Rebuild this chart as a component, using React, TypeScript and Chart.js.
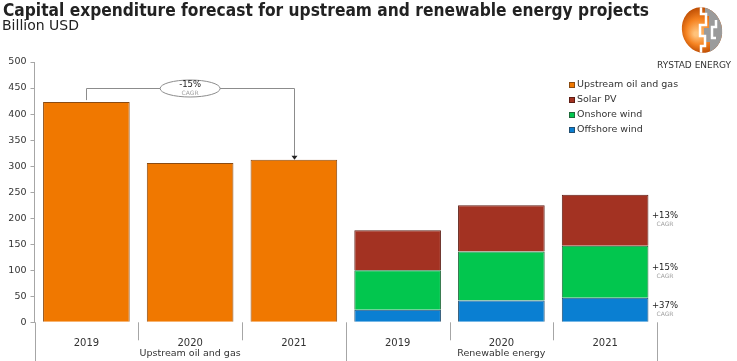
import React, { useEffect, useRef } from "react";
import { Chart, registerables } from "chart.js";

Chart.register(...registerables);

// ---------- data ----------
const categories = ["2019", "2020", "2021", "2019", "2020", "2021"];
const groups = ["Upstream oil and gas", "Renewable energy"];
const groupSpans = [3, 3];
const upstream = [423, 306, 312, null, null, null];
const offshoreWind = [null, null, null, 24, 42, 47];
const onshoreWind = [null, null, null, 76, 94, 100];
const solarPV = [null, null, null, 77, 89, 98];
const yMin = 0;
const yMax = 500;
const yStep = 50;
const upstreamCagr = "-15%";
const upstreamCagrLevel = 450;
const renewCagr = ["+37%", "+15%", "+13%"]; // offshore, onshore, solar
const legendLabels = ["Upstream oil and gas", "Solar PV", "Onshore wind", "Offshore wind"];
const title = "Capital expenditure forecast for upstream and renewable energy projects";
const subtitle = "Billion USD";
const brand = "RYSTAD ENERGY";

const COLORS = {
  upstream: "#F07800",
  solar: "#A33222",
  onshore: "#02C64E",
  offshore: "#0A7FD2",
};
const BORDERS = {
  upstream: "#8a4b12",
  solar: "#5e1d14",
  onshore: "#1f6a3a",
  offshore: "#234f70",
};
const FONT = "'DejaVu Sans', Verdana, sans-serif";
const AXIS = "#a6a6a6";

const overlayPlugin = {
  id: "overlay",
  afterDraw(chart: any) {
    const ctx: CanvasRenderingContext2D = chart.ctx;
    const area = chart.chartArea;
    const x = chart.scales.x;
    const y = chart.scales.y;
    const H = chart.height;
    const n = categories.length;
    const catW = (area.right - area.left) / n;
    ctx.save();

    // Title & subtitle
    ctx.fillStyle = "#222";
    ctx.textAlign = "left";
    ctx.textBaseline = "alphabetic";
    ctx.font = `bold 18px ${FONT}`;
    ctx.fillText(title, 3, 16, 646);
    ctx.font = `14px ${FONT}`;
    ctx.fillText(subtitle, 2, 30);

    // x axis: lines and group labels
    ctx.strokeStyle = AXIS;
    ctx.lineWidth = 1;
    const line = (x1: number, y1: number, x2: number, y2: number) => {
      ctx.beginPath();
      ctx.moveTo(x1, y1);
      ctx.lineTo(x2, y2);
      ctx.stroke();
    };
    // extension of y axis line
    line(Math.round(area.left) + 0.5, area.bottom, Math.round(area.left) + 0.5, H);
    let idx = 0;
    const groupEnds: number[] = [];
    groupSpans.forEach((s) => {
      idx += s;
      groupEnds.push(idx);
    });
    for (let i = 1; i <= n; i++) {
      const bx = Math.round(area.left + catW * i) + 0.5;
      const full = groupEnds.includes(i);
      line(bx, area.bottom, bx, full ? H : area.bottom + 18);
    }
    ctx.fillStyle = "#333";
    ctx.font = `9.5px ${FONT}`;
    ctx.textAlign = "center";
    ctx.textBaseline = "middle";
    let start = 0;
    groups.forEach((g, gi) => {
      const s = groupSpans[gi];
      const cx = area.left + catW * (start + s / 2);
      ctx.fillText(g, cx, area.bottom + 31);
      start += s;
    });

    // Upstream CAGR annotation
    const x0 = x.getPixelForValue(0);
    const x2 = x.getPixelForValue(2);
    const yl = Math.round(y.getPixelForValue(upstreamCagrLevel)) + 0.5;
    const top0 = y.getPixelForValue(upstream[0] as number);
    const top2 = y.getPixelForValue(upstream[2] as number);
    ctx.strokeStyle = "#8c8c8c";
    ctx.beginPath();
    ctx.moveTo(Math.round(x0) + 0.5, top0 - 2);
    ctx.lineTo(Math.round(x0) + 0.5, yl);
    ctx.lineTo(Math.round(x2) + 0.5, yl);
    ctx.lineTo(Math.round(x2) + 0.5, top2 - 3);
    ctx.stroke();
    ctx.fillStyle = "#222";
    ctx.beginPath();
    ctx.moveTo(Math.round(x2) + 0.5, top2);
    ctx.lineTo(Math.round(x2) - 2.5, top2 - 4);
    ctx.lineTo(Math.round(x2) + 3.5, top2 - 4);
    ctx.closePath();
    ctx.fill();
    const ex = (x0 + x2) / 2;
    ctx.beginPath();
    ctx.ellipse(ex, yl, 30, 8.5, 0, 0, Math.PI * 2);
    ctx.fillStyle = "#fff";
    ctx.fill();
    ctx.strokeStyle = "#8c8c8c";
    ctx.stroke();
    ctx.fillStyle = "#222";
    ctx.font = `8.5px ${FONT}`;
    ctx.fillText(upstreamCagr, ex, yl - 3.5);
    ctx.fillStyle = "#a0a0a0";
    ctx.font = `6px ${FONT}`;
    ctx.fillText("CAGR", ex, yl + 4.5);

    // Renewable CAGR labels at segment midpoints of last bar
    const last = n - 1;
    const segs = [offshoreWind[last] as number, onshoreWind[last] as number, solarPV[last] as number];
    let base = 0;
    segs.forEach((v, i) => {
      const mid = y.getPixelForValue(base + v / 2);
      base += v;
      const tx = area.right + 8;
      ctx.fillStyle = "#222";
      ctx.font = `8.5px ${FONT}`;
      ctx.fillText(renewCagr[i], tx, mid - 4);
      ctx.fillStyle = "#a0a0a0";
      ctx.font = `6px ${FONT}`;
      ctx.fillText("CAGR", tx, mid + 4.5);
    });

    // Legend
    const lColors = [COLORS.upstream, COLORS.solar, COLORS.onshore, COLORS.offshore];
    const lBorders = [BORDERS.upstream, BORDERS.solar, BORDERS.onshore, BORDERS.offshore];
    ctx.textAlign = "left";
    ctx.font = `9.5px ${FONT}`;
    legendLabels.forEach((lab, i) => {
      const ly = 85 + i * 15;
      ctx.fillStyle = lColors[i];
      ctx.fillRect(569, ly - 3, 6, 6);
      ctx.strokeStyle = lBorders[i];
      ctx.strokeRect(569.5, ly - 2.5, 5, 5);
      ctx.fillStyle = "#333";
      ctx.fillText(lab, 577, ly);
    });

    // Brand logo
    const lx = 702;
    const ly = 30;
    ctx.save();
    ctx.beginPath();
    ctx.ellipse(lx, ly, 20, 23, -0.25, 0, Math.PI * 2);
    ctx.clip();
    const g = ctx.createRadialGradient(lx - 6, ly + 4, 2, lx, ly, 24);
    g.addColorStop(0, "#FFC27A");
    g.addColorStop(0.5, "#F58220");
    g.addColorStop(1, "#B84800");
    ctx.fillStyle = g;
    ctx.fillRect(lx - 25, ly - 25, 50, 50);
    ctx.fillStyle = "#9b9b9b";
    ctx.beginPath();
    ctx.moveTo(lx + 3, ly - 25);
    ctx.lineTo(lx + 25, ly - 25);
    ctx.lineTo(lx + 25, ly + 25);
    ctx.lineTo(lx + 8, ly + 25);
    ctx.lineTo(lx + 8, ly + 12);
    ctx.lineTo(lx + 2, ly + 12);
    ctx.lineTo(lx + 2, ly - 2);
    ctx.lineTo(lx + 7, ly - 2);
    ctx.lineTo(lx + 7, ly - 14);
    ctx.lineTo(lx + 3, ly - 14);
    ctx.closePath();
    ctx.fill();
    ctx.strokeStyle = "#ffffff";
    ctx.lineWidth = 2.5;
    ctx.beginPath();
    ctx.moveTo(lx - 1, ly - 25);
    ctx.lineTo(lx - 1, ly - 16);
    ctx.lineTo(lx + 4, ly - 16);
    ctx.lineTo(lx + 4, ly - 5);
    ctx.lineTo(lx - 2, ly - 5);
    ctx.lineTo(lx - 2, ly + 6);
    ctx.lineTo(lx + 3, ly + 6);
    ctx.lineTo(lx + 3, ly + 16);
    ctx.lineTo(lx - 1, ly + 16);
    ctx.lineTo(lx - 1, ly + 25);
    ctx.stroke();
    ctx.beginPath();
    ctx.moveTo(lx + 14, ly - 10);
    ctx.lineTo(lx + 14, ly - 3);
    ctx.lineTo(lx + 10, ly - 3);
    ctx.lineTo(lx + 10, ly + 8);
    ctx.lineTo(lx + 14, ly + 8);
    ctx.stroke();
    ctx.restore();
    ctx.fillStyle = "#333";
    ctx.font = `9px ${FONT}`;
    ctx.textAlign = "left";
    ctx.fillText(brand, 657, 66, 77);

    ctx.restore();
  },
};

export default function App() {
  const ref = useRef<HTMLCanvasElement | null>(null);
  useEffect(() => {
    if (!ref.current) return;
    const chart = new Chart(ref.current, {
      type: "bar",
      data: {
        labels: categories,
        datasets: [
          { label: legendLabels[0], data: upstream, backgroundColor: COLORS.upstream, borderColor: BORDERS.upstream, borderWidth: 1 },
          { label: legendLabels[3], data: offshoreWind, backgroundColor: COLORS.offshore, borderColor: BORDERS.offshore, borderWidth: 1 },
          { label: legendLabels[2], data: onshoreWind, backgroundColor: COLORS.onshore, borderColor: BORDERS.onshore, borderWidth: 1 },
          { label: legendLabels[1], data: solarPV, backgroundColor: COLORS.solar, borderColor: BORDERS.solar, borderWidth: 1 },
        ] as any,
      },
      options: {
        animation: false,
        responsive: false,
        maintainAspectRatio: false,
        datasets: { bar: { barPercentage: 0.835, categoryPercentage: 1 } },
        layout: { padding: { left: 0, top: 62, right: 80, bottom: 0 } },
        plugins: { legend: { display: false }, tooltip: { enabled: false }, title: { display: false } },
        scales: {
          x: {
            stacked: true,
            grid: { display: false },
            border: { display: false },
            ticks: { color: "#333", font: { family: FONT, size: 10 }, padding: 7, maxRotation: 0 },
            afterFit: (s: any) => {
              s.height = 38.7;
            },
          },
          y: {
            stacked: true,
            min: yMin,
            max: yMax,
            ticks: { stepSize: yStep, color: "#333", font: { family: FONT, size: 9.5 }, padding: 4 },
            grid: { drawOnChartArea: false, drawTicks: true, tickLength: 4, color: AXIS },
            border: { display: true, color: AXIS },
            afterFit: (s: any) => {
              s.width = 34.5;
            },
          },
        },
      } as any,
      plugins: [overlayPlugin],
    });
    return () => chart.destroy();
  }, []);
  return (
    <div style={{ position: "fixed", left: 0, top: 0, width: 737, height: 361, background: "#fff" }}>
      <canvas ref={ref} width={737} height={361} style={{ width: 737, height: 361 }} />
    </div>
  );
}
